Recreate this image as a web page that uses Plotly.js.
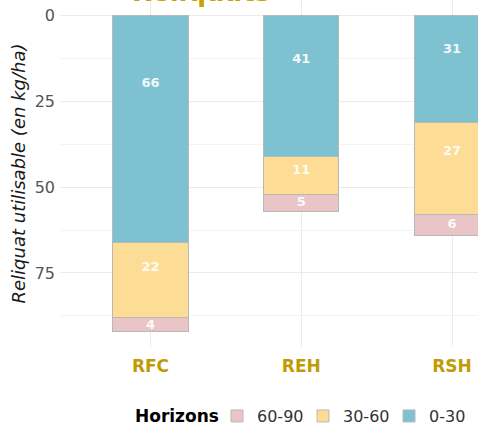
<!DOCTYPE html>
<html><head><meta charset="utf-8">
<script src="https://cdn.plot.ly/plotly-3.0.1.min.js"></script>
<style>html,body{margin:0;padding:0;background:#fff}#chart{width:478px;height:427px}</style>
</head><body><div id="chart"></div>
<script>
const categories = ["RFC", "REH", "RSH"];
const horizons = ["0-30", "30-60", "60-90"];
const v0_30 = [66, 41, 31];
const v30_60 = [22, 11, 27];
const v60_90 = [4, 5, 6];
const yTicks = [0, 25, 50, 75];

const series = [v0_30, v30_60, v60_90];
const colors = ["#7EC2D2", "#FDDC96", "#E9C5C8"];
const font = "DejaVu Sans, Verdana, sans-serif";

const traces = [];
series.forEach((vals, i) => {
  traces.push({
    type: "bar", name: horizons[i], x: categories, y: vals, width: 0.5,
    marker: {color: colors[i], line: {color: "#b8b8b8", width: 1}},
    hoverinfo: "none"
  });
});
// labels
const lx = [], ly = [], lt = [];
categories.forEach((c, j) => {
  let base = 0;
  series.forEach(vals => {
    lx.push(c); ly.push(base + 0.28 * vals[j] + 1.2); lt.push(String(vals[j]));
    base += vals[j];
  });
});
traces.push({
  type: "scatter", mode: "text", x: lx, y: ly, text: lt, showlegend: false,
  hoverinfo: "none", cliponaxis: false,
  textfont: {family: font, size: 13, color: "rgba(255,255,255,0.92)", weight: "bold"}
});

const layout = {
  width: 478, height: 427,
  margin: {l: 60, r: 0, t: 0, b: 80, autoexpand: false},
  barmode: "stack",
  paper_bgcolor: "#fff", plot_bgcolor: "#fff",
  showlegend: true,
  xaxis: {
    type: "category", categoryarray: categories, range: [-0.6, 2.172],
    showgrid: true, gridcolor: "#ebebeb", gridwidth: 1, zeroline: false,
    showline: false, ticks: "", ticklabelstandoff: 7, automargin: false,
    tickfont: {family: font, size: 17, color: "#BF9C06", weight: "bold"}
  },
  yaxis: {
    range: [96.6, -4.6], tickvals: yTicks, ticktext: yTicks.map(String),
    showgrid: true, gridcolor: "#ebebeb", gridwidth: 1, zeroline: false,
    showline: false, ticks: "", ticklabelstandoff: 4, automargin: false,
    minor: {tickvals: [12.5, 37.5, 62.5, 87.5], showgrid: true, gridcolor: "#f3f3f3", gridwidth: 1, ticks: ""},
    tickfont: {family: font, size: 16, color: "#555555"},
    title: {text: "<i>Reliquat utilisable (en kg/ha)</i>", font: {family: font, size: 18, color: "#1a1a1a"}, standoff: 4}
  },
  legend: {
    orientation: "h", traceorder: "reversed",
    x: 0.3756, xanchor: "left", y: -0.199, yanchor: "middle",
    entrywidth: 41, entrywidthmode: "pixels",
    font: {family: font, size: 16, color: "#333"}
  },
  annotations: [{
    text: "<b>Reliquats</b>", xref: "paper", yref: "paper", x: 0.337, y: 1,
    xanchor: "center", yanchor: "bottom", yshift: -9, showarrow: false,
    font: {family: font, size: 26, color: "#C9A100"}
  }, {
    text: "<b>Horizons</b>", xref: "paper", yref: "paper", x: 0.1746, y: -0.1988,
    xanchor: "left", yanchor: "middle", showarrow: false,
    font: {family: font, size: 17, color: "#000"}
  }]
};
Plotly.newPlot("chart", traces, layout, {displayModeBar: false, staticPlot: true});
</script></body></html>
